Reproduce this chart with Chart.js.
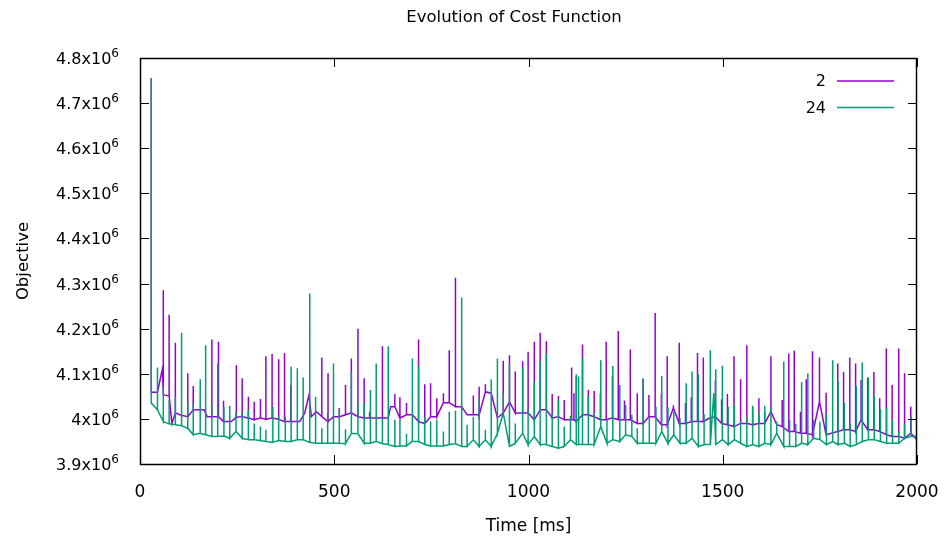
<!DOCTYPE html>
<html>
<head>
<meta charset="utf-8">
<script src="https://cdn.jsdelivr.net/npm/chart.js@4.4.1/dist/chart.umd.min.js"></script>
<style>
  html, body { margin: 0; padding: 0; background: #fff; }
  #wrap { width: 946px; height: 545px; }
</style>
</head>
<body>
<div id="wrap"><canvas id="cost" width="946" height="545"></canvas></div>
<script>
// objective values are in units of 1e6, times in ms
// each sample: time, settled value (lo) and the perturbed peak (hi, null if none)
const seriesNames = ["2", "24"];

const t2 = [29,45,58,60,75,82,91,106,123,137,165,173,185,202,215,235,248,263,279,294,
  310,324,340,357,372,388,411,424,435,441,454,468,484,498,513,529,544,561,577,591,
  608,624,639,645,656,669,686,701,717,733,748,764,781,796,812,828,842,858,873,889,
  904,920,935,951,966,985,999,1015,1030,1046,1061,1077,1092,1111,1117,1123,1139,1154,1169,1185,
  1200,1216,1231,1247,1262,1280,1295,1310,1326,1342,1357,1373,1388,1404,1419,1435,1450,1466,1481,1497,
  1512,1529,1546,1562,1577,1593,1608,1624,1639,1653,1670,1684,1700,1715,1731,1749,1766,1796,1811,1827,
  1842,1856,1873,1889,1904,1921,1936,1953,1968,1984,2000];
const lo2 = [4.059,4.059,4.112,4.053,4.051,3.990,4.013,4.008,4.005,4.020,
  4.020,4.005,4.005,4.005,3.994,3.994,4.004,4.005,4.002,3.998,
  4.002,3.999,4.002,3.999,3.994,3.994,3.994,4.013,4.053,4.005,
  4.016,4.005,3.994,4.005,4.005,4.009,4.013,4.005,4.002,4.002,
  4.002,4.002,4.002,4.027,4.027,4.002,4.009,4.009,3.994,3.990,
  4.005,4.005,4.036,4.036,4.027,4.027,4.009,4.009,4.009,4.060,
  4.057,4.002,4.013,4.038,4.013,4.013,4.013,3.998,4.020,4.020,
  4.002,4.005,3.998,3.998,3.998,3.994,4.009,4.009,4.005,3.998,
  3.998,4.002,3.998,3.998,3.998,3.990,3.990,4.005,4.005,3.987,
  3.987,4.024,3.990,3.990,3.994,3.994,3.994,4.002,4.005,3.990,
  3.987,3.983,3.990,3.990,3.987,3.990,3.990,4.016,3.987,3.983,
  3.972,3.972,3.968,3.968,3.965,4.038,3.965,3.972,3.976,3.976,
  3.972,3.998,3.976,3.976,3.972,3.965,3.961,3.961,3.957,3.968,
  3.954];
const hi2 = [4.755,null,null,4.285,4.231,null,4.169,null,4.101,4.073,
  null,null,4.176,4.171,4.040,null,4.119,4.090,4.049,4.038,
  4.044,4.139,4.144,4.132,4.146,4.075,null,null,null,null,
  null,4.136,4.101,null,4.024,4.075,4.134,4.200,4.090,4.016,
  null,4.161,null,null,4.055,4.048,4.035,null,4.176,4.077,
  4.079,4.046,4.057,4.152,4.313,null,null,4.052,4.071,4.077,
  null,null,4.129,4.141,4.105,4.128,4.149,4.171,4.191,4.172,
  4.055,4.051,4.042,4.114,4.057,4.095,4.165,4.064,4.062,4.057,
  4.171,4.095,4.195,4.041,4.154,4.057,4.088,4.053,4.235,4.055,
  4.139,4.030,4.169,4.035,4.048,4.146,4.136,null,4.085,4.043,
  4.055,4.139,4.088,4.163,4.026,4.046,4.016,4.139,null,4.042,
  4.145,4.151,4.016,4.088,4.150,4.136,4.058,4.123,4.104,4.136,
  4.123,4.086,4.092,4.104,4.046,4.156,4.075,4.156,4.101,4.027,
  null];

const t24 = [29,45,60,75,91,107,123,137,155,169,185,200,216,231,247,263,279,294,310,324,
  342,357,374,389,405,420,437,452,468,483,498,513,529,544,561,577,593,608,624,639,
  656,669,686,701,717,733,748,764,781,796,812,828,842,858,873,889,904,920,935,951,
  966,985,999,1015,1030,1046,1061,1077,1092,1108,1123,1129,1139,1154,1169,1186,1202,1217,1235,1250,
  1266,1280,1295,1311,1328,1343,1359,1374,1390,1406,1421,1437,1452,1468,1477,1482,1499,1514,1530,1546,
  1562,1577,1593,1608,1624,1639,1657,1672,1688,1703,1719,1734,1750,1767,1783,1797,1813,1828,1844,1859,
  1875,1890,1906,1922,1937,1953,1968,1985,2000];
const lo24 = [4.035,4.020,3.994,3.989,3.987,3.985,3.979,3.965,3.968,3.965,
  3.961,3.961,3.962,3.957,3.972,3.957,3.954,3.954,3.952,3.950,
  3.948,3.952,3.950,3.950,3.954,3.954,3.948,3.946,3.946,3.946,
  3.946,3.946,3.945,3.968,3.967,3.946,3.946,3.950,3.945,3.943,
  3.939,3.940,3.940,3.950,3.950,3.943,3.940,3.940,3.940,3.943,
  3.945,3.939,3.939,3.954,3.939,3.954,3.939,3.968,4.013,3.939,
  3.946,3.968,3.943,3.961,3.943,3.943,3.939,3.935,3.939,3.954,
  3.943,3.943,3.943,3.943,3.943,3.983,3.946,3.954,3.950,3.965,
  3.961,3.946,3.946,3.946,3.946,3.972,3.946,3.965,3.946,3.946,
  3.957,3.939,3.943,3.943,4.057,3.943,3.954,3.943,3.954,3.946,
  3.939,3.943,3.939,3.946,3.943,3.968,3.939,3.939,3.939,3.946,
  3.943,3.957,3.954,3.943,3.950,3.943,3.946,3.939,3.943,3.950,
  3.954,3.954,3.950,3.946,3.946,3.946,3.957,3.961,3.961];
const hi24 = [4.755,4.114,4.073,4.042,4.049,4.191,4.035,4.035,4.088,4.163,
  4.031,4.123,4.027,4.029,4.016,4.013,4.020,3.990,3.983,3.976,
  4.027,4.005,4.005,4.116,4.112,4.092,4.278,4.049,3.979,4.013,
  4.123,4.020,3.977,4.105,4.035,4.035,4.064,4.123,4.002,4.161,
  3.998,3.998,3.967,4.134,4.117,4.004,3.994,3.998,3.972,4.016,
  4.018,4.269,3.987,4.005,4.045,3.976,4.088,4.134,4.057,4.123,
  3.990,4.114,4.021,4.083,4.127,4.145,4.013,4.043,3.983,4.007,
  4.099,4.094,4.136,4.051,4.013,4.130,3.998,4.117,4.075,4.031,
  4.009,3.979,4.090,4.002,4.027,4.095,4.026,4.016,4.002,4.079,
  4.105,4.099,4.011,4.152,null,4.110,4.118,4.027,4.031,3.994,
  4.005,4.029,4.013,4.029,4.025,3.994,4.127,3.998,3.989,4.082,
  4.101,3.998,3.994,4.009,4.130,4.084,4.036,3.990,4.073,4.125,
  4.091,4.051,4.022,4.024,3.998,3.972,3.990,4.005,null];

const colors = ["#9400d3", "#009e73"];
const FONT = "DejaVu Sans";

// a peak is drawn as a vertical excursion at its sample time
function toPoints(t, lo, hi) {
  const pts = [];
  for (let i = 0; i < t.length; i++) {
    pts.push({ x: t[i], y: lo[i] });
    if (hi[i] !== null) {
      pts.push({ x: t[i], y: hi[i] });
      pts.push({ x: t[i], y: lo[i] });
    }
  }
  return pts;
}

const frame = {
  id: "frame",
  afterDraw(chart) {
    const { ctx, chartArea: a, scales } = chart;
    ctx.save();
    ctx.strokeStyle = "#000";
    ctx.lineWidth = 1;
    // inward tick marks on all four sides
    const tl = 9;
    ctx.beginPath();
    scales.y.ticks.forEach(tk => {
      const y = Math.round(scales.y.getPixelForValue(tk.value)) + 0.5;
      ctx.moveTo(a.left, y); ctx.lineTo(a.left + tl, y);
      ctx.moveTo(a.right, y); ctx.lineTo(a.right - tl, y);
    });
    scales.x.ticks.forEach(tk => {
      const x = Math.round(scales.x.getPixelForValue(tk.value)) + 0.5;
      ctx.moveTo(x, a.bottom); ctx.lineTo(x, a.bottom - tl);
      ctx.moveTo(x, a.top); ctx.lineTo(x, a.top + tl);
    });
    ctx.stroke();
    ctx.lineWidth = 1.5;
    ctx.strokeRect(a.left + 0.5, a.top + 0.5, a.right - a.left - 1, a.bottom - a.top);

    ctx.fillStyle = "#000";
    // y tick labels as mantissa x10 with a raised exponent
    ctx.textBaseline = "alphabetic";
    ctx.textAlign = "left";
    scales.y.ticks.forEach(tk => {
      const y = scales.y.getPixelForValue(tk.value);
      const base = (Math.round(tk.value * 10) / 10) + "x10";
      ctx.font = "16px '" + FONT + "'";
      const w1 = ctx.measureText(base).width;
      ctx.font = "12px '" + FONT + "'";
      const w2 = ctx.measureText("6").width;
      const x0 = a.left - 21 - w1 - w2;
      ctx.font = "16px '" + FONT + "'";
      ctx.fillText(base, x0, y + 6);
      ctx.font = "12px '" + FONT + "'";
      ctx.fillText("6", x0 + w1, y - 1);
    });

    ctx.textBaseline = "middle";
    ctx.textAlign = "center";
    ctx.font = "16.5px '" + FONT + "'";
    ctx.fillText("Evolution of Cost Function", 514, 18);
    ctx.font = "17px '" + FONT + "'";
    ctx.fillText("Time [ms]", (a.left + a.right) / 2, 527);
    ctx.save();
    ctx.translate(24, (a.top + a.bottom) / 2);
    ctx.rotate(-Math.PI / 2);
    ctx.font = "16.5px '" + FONT + "'";
    ctx.fillText("Objective", 0, 0);
    ctx.restore();

    // key, top right: label then line sample
    ctx.font = "16px '" + FONT + "'";
    ctx.textAlign = "right";
    seriesNames.forEach((name, i) => {
      const y = 81 + i * 26.5;
      ctx.fillStyle = "#000";
      ctx.fillText(name, 826, y + 1);
      ctx.strokeStyle = colors[i];
      ctx.lineWidth = 1.5;
      ctx.beginPath();
      ctx.moveTo(837, y); ctx.lineTo(894, y);
      ctx.stroke();
    });
    ctx.restore();
  }
};

new Chart(document.getElementById("cost"), {
  type: "line",
  data: {
    datasets: [
      { label: seriesNames[0], data: toPoints(t2, lo2, hi2), borderColor: colors[0], order: 1 },
      { label: seriesNames[1], data: toPoints(t24, lo24, hi24), borderColor: colors[1], order: 0 }
    ]
  },
  options: {
    responsive: false,
    animation: false,
    events: [],
    layout: { padding: { top: 58, right: 29, bottom: 0, left: 0 } },
    elements: {
      line: { borderWidth: 1.5, tension: 0, fill: false },
      point: { radius: 0 }
    },
    plugins: { legend: { display: false }, tooltip: { enabled: false } },
    scales: {
      x: {
        type: "linear", min: 0, max: 2000,
        grid: { display: false, drawTicks: false },
        border: { display: false },
        ticks: {
          stepSize: 500, padding: 18, maxRotation: 0, color: "#000",
          font: { family: FONT, size: 17 },
          callback: v => String(v)
        },
        afterFit: s => { s.height = 81; s.paddingLeft = 0; s.paddingRight = 0; }
      },
      y: {
        min: 3.9, max: 4.8,
        grid: { display: false, drawTicks: false },
        border: { display: false },
        ticks: { stepSize: 0.1, display: false },
        afterFit: s => { s.width = 140; s.paddingTop = 0; s.paddingBottom = 0; }
      }
    }
  },
  plugins: [frame]
});
</script>
</body>
</html>
